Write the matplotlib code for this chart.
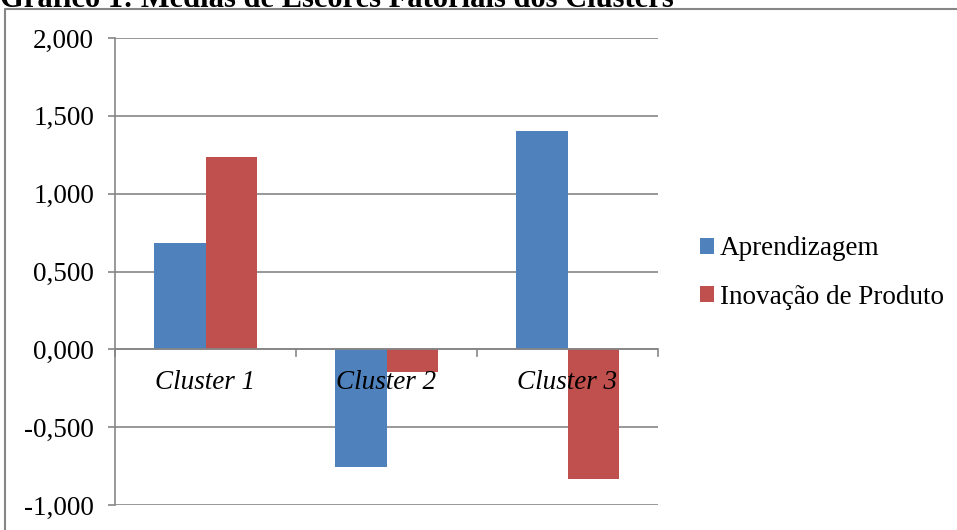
import numpy as np
import matplotlib.pyplot as plt
from matplotlib.patches import Patch
from matplotlib.lines import Line2D

# dados
clusters = ['Cluster 1', 'Cluster 2', 'Cluster 3']
aprendizagem = [0.682, -0.759, 1.402]
inovacao = [1.235, -0.148, -0.830]
series_names = ['Aprendizagem', 'Inovação de Produto']
yticks = [-1.0, -0.5, 0.0, 0.5, 1.0, 1.5, 2.0]
ytick_labels = ['-1,000', '-0,500', '0,000', '0,500', '1,000', '1,500', '2,000']

blue = '#4F81BD'
red = '#C0504D'
grey = '#868686'
fs = 19.5

plt.rcParams['font.family'] = ['Liberation Serif', 'DejaVu Serif']

fig = plt.figure(figsize=(9.57, 5.30), dpi=100)
W, H = 957, 530

# moldura (só esquerda e topo aparecem)
fig.add_artist(Line2D([5 / W, 5 / W, 1.0], [0.0, 1 - 9 / H, 1 - 9 / H],
                      transform=fig.transFigure, color=grey, linewidth=1.5))

# título cortado no topo, como no original
fig.text(0.0, 1 - 7 / H, 'Gráfico 1: Médias de Escores Fatoriais dos Clusters',
         fontsize=22, fontweight='bold', ha='left', va='baseline')

ax = fig.add_axes([115 / W, 1 - 505 / H, 543 / W, 467 / H])

x = np.arange(len(clusters))
width = 0.285
ax.bar(x - width / 2, aprendizagem, width, color=blue, label=series_names[0], zorder=3)
ax.bar(x + width / 2, inovacao, width, color=red, label=series_names[1], zorder=3)

ax.set_xlim(-0.5, 2.5)
ax.set_ylim(-1.0, 2.0)
ax.set_yticks(yticks)
ax.set_yticklabels(ytick_labels, fontsize=fs)
ax.yaxis.grid(True, color=grey, linewidth=1.2, zorder=0)
ax.tick_params(axis='y', length=5, width=1.2, color=grey, pad=10)

for s in ['top', 'right', 'bottom']:
    ax.spines[s].set_visible(False)
ax.spines['left'].set_color(grey)
ax.spines['left'].set_linewidth(1.2)

# eixo x no zero
ax.axhline(0, color=grey, linewidth=1.2, zorder=4)
for b in [-0.5, 0.5, 1.5, 2.5]:
    ax.plot([b, b], [0, -0.045], color=grey, linewidth=1.2, zorder=4, clip_on=False)
ax.set_xticks([])
for i, c in enumerate(clusters):
    ax.text(i, -0.21, c, ha='center', va='center', fontsize=fs, style='italic', zorder=5)

handles = [Patch(facecolor=blue), Patch(facecolor=red)]
fig.legend(handles, series_names, loc='center left', bbox_to_anchor=(676 / W, 1 - 273 / H),
           frameon=False, fontsize=fs, handlelength=0.52, handleheight=0.52,
           handletextpad=0.2, labelspacing=0.85)

fig.savefig('out.png', dpi=100)
